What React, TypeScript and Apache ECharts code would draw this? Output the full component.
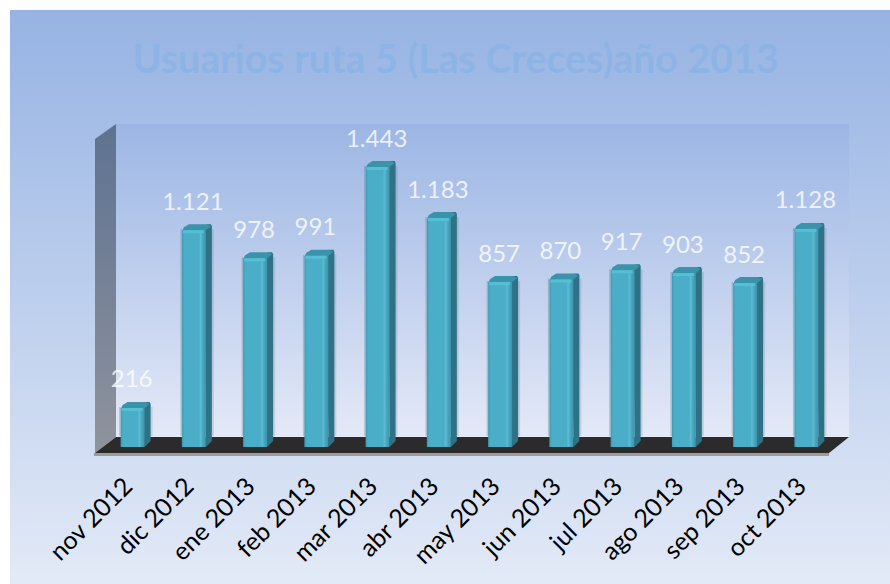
import React, { useEffect, useRef } from "react";
import * as echarts from "echarts";

const titleText = "Usuarios ruta 5 (Las Creces)año 2013";
const categories = ["nov 2012", "dic 2012", "ene 2013", "feb 2013", "mar 2013", "abr 2013", "may 2013", "jun 2013", "jul 2013", "ago 2013", "sep 2013", "oct 2013"];
const usuarios = [216, 1121, 978, 991, 1443, 1183, 857, 870, 917, 903, 852, 1128];

const FONT = "Lato, 'Open Sans', sans-serif";
const fmt = (v: number) => (v >= 1000 ? `${Math.floor(v / 1000)}.${String(v % 1000).padStart(3, "0")}` : String(v));
const vgrad = (a: string, b: string) => new echarts.graphic.LinearGradient(0, 0, 0, 1, [{ offset: 0, color: a }, { offset: 1, color: b }]);

function renderBar(_: any, api: any) {
  const [cx, top] = api.coord([api.value(0), api.value(1)]);
  const [, zero] = api.coord([api.value(0), 0]);
  const base = zero - 3.4;
  const hw = 12;
  const d = 6;
  const l = cx - hw;
  const r = cx + hw;
  const h = base - top;
  return {
    type: "group",
    children: [
      // soft reflection on the wall
      { type: "rect", shape: { x: l - 1.5, y: top - 1, width: 1.5, height: h - 10 }, style: { fill: "rgba(70,110,130,0.3)" } },
      { type: "rect", shape: { x: r + d, y: top - 1, width: 2, height: h - 10 }, style: { fill: "rgba(70,110,130,0.2)" } },
      // side face
      { type: "polygon", shape: { points: [[r - 2, top], [r + 1, top - 6], [r + d - 1, top - 6], [r + d, top - 4], [r + d, base - 6], [r, base]] }, style: { fill: "#2f7286" } },
      // top face
      { type: "polygon", shape: { points: [[l, top + 1], [l + 2, top - 3], [l + 7, top - 6], [r + 1, top - 6], [r + d - 1, top - 4], [r - 1, top + 1]] }, style: { fill: "#3a93a9" } },
      // front face
      { type: "rect", shape: { x: l, y: top, width: 2 * hw, height: h }, style: { fill: new echarts.graphic.LinearGradient(0, 0, 1, 0, [
        { offset: 0, color: "#4199b2" }, { offset: 0.1, color: "#4aaec8" }, { offset: 0.72, color: "#4aaec8" },
        { offset: 0.78, color: "#5ebcd2" }, { offset: 0.88, color: "#45a6be" }, { offset: 1, color: "#3d93aa" }]) } },
      { type: "rect", shape: { x: l + 1, y: top, width: 2 * hw - 3, height: 3 }, style: { fill: "#56bfd6" } },
    ],
  };
}

export default function App() {
  const ref = useRef<HTMLDivElement>(null);
  useEffect(() => {
    document.body.style.margin = "0";
    const chart = echarts.init(ref.current!, null, { renderer: "svg" });
    chart.setOption({
      animation: false,
      backgroundColor: "#ffffff",
      title: {
        text: titleText, left: 450.5, top: 33, textAlign: "center",
        textStyle: { color: "#8eb4e6", fontFamily: FONT, fontWeight: "bold", fontSize: 39.3 },
      },
      grid: { left: 102, right: 53, top: 136.2, bottom: 133.6 },
      xAxis: {
        type: "category", data: categories,
        axisLine: { show: false }, axisTick: { show: false },
        axisLabel: { rotate: 45, color: "#000000", fontFamily: FONT, fontSize: 25, margin: 25, interval: 0, padding: [0, 8, 0, 0] },
      },
      yAxis: { type: "value", min: 0, max: 1600, show: false },
      graphic: [
        { type: "rect", z: -10, shape: { x: 10, y: 10, width: 880, height: 574 }, style: { fill: vgrad("#96b3e3", "#e3eaf7") } },
        { type: "rect", z: -9, shape: { x: 116, y: 124, width: 733, height: 313 }, style: { fill: vgrad("#9cb6e4", "#e4e9f7") } },
        { type: "polygon", z: -9, shape: { points: [[116, 124], [116, 437], [95, 453], [95, 139]] }, style: { fill: vgrad("#5e7290", "#8f939d") } },
        { type: "polygon", z: -9, shape: { points: [[116, 437], [849, 437], [829, 453], [95, 453]] }, style: { fill: "#2b2b2b" } },
        { type: "rect", z: -9, shape: { x: 94, y: 453, width: 735, height: 3 }, style: { fill: "#9b9b9b" } },
      ],
      series: [
        { type: "custom", renderItem: renderBar, data: usuarios.map((v, i) => [i, v]), encode: { x: 0, y: 1 }, z: 2 },
        {
          type: "scatter", data: usuarios.map((v, i) => [i, v]), symbolSize: 0, z: 3, silent: true,
          label: {
            show: true, position: "top", distance: 18, offset: [-1, 0], color: "#ffffff", fontFamily: FONT, fontSize: 24,
            formatter: (p: any) => fmt(p.value[1]),
          },
        },
      ],
    });
    return () => chart.dispose();
  }, []);
  return <div ref={ref} style={{ width: 890, height: 584 }} />;
}
